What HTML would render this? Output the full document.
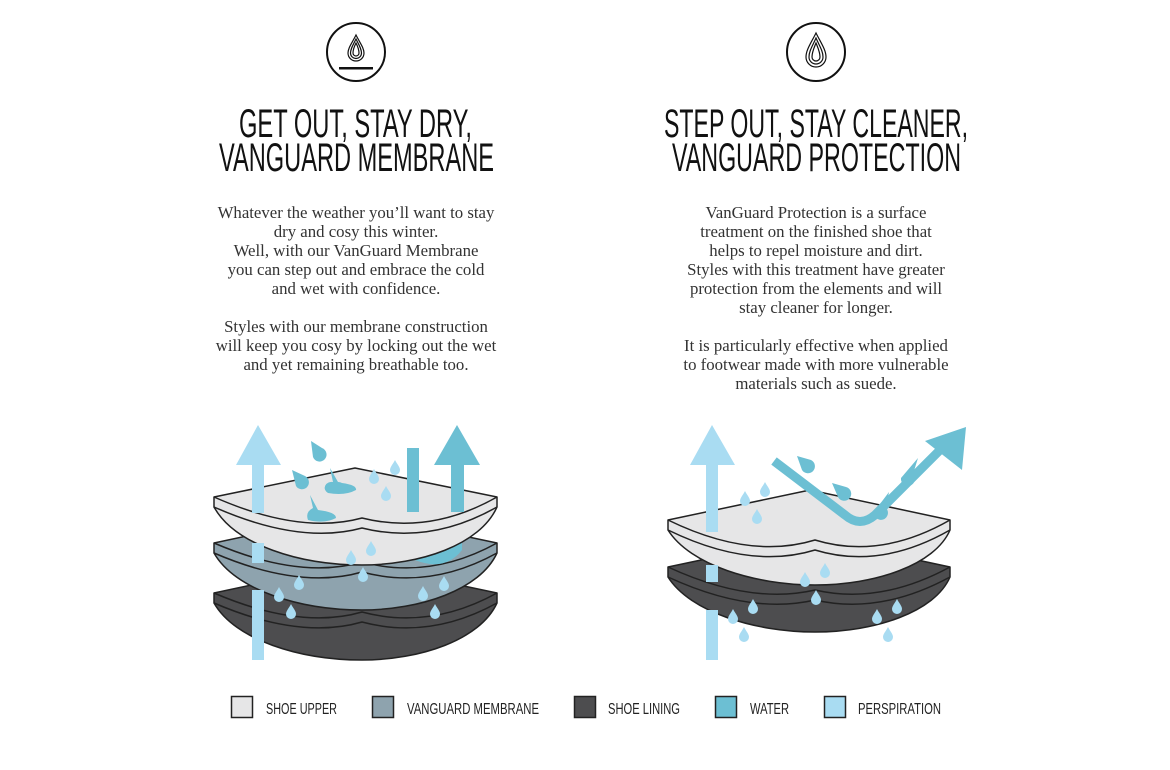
<!DOCTYPE html>
<html><head><meta charset="utf-8"><style>
html,body{margin:0;padding:0;background:#fff;}
svg{display:block;}
.h{font-family:"Liberation Sans",sans-serif;font-size:40px;fill:#111;}
.b{font-family:"Liberation Serif",serif;font-size:16.8px;fill:#333;}
.l{font-family:"Liberation Sans",sans-serif;font-size:16px;fill:#222;}
</style></head><body>
<svg width="1170" height="770" viewBox="0 0 1170 770" xmlns="http://www.w3.org/2000/svg">
<defs>
<path id="drop" d="M0,-8 C2,-4 5,-1 5,2 A5,5 0 0 1 -5,2 C-5,-1 -2,-4 0,-8Z"/>
</defs>
<circle cx="356" cy="52" r="29" fill="none" stroke="#111" stroke-width="2"/>
<g fill="none" stroke="#111" stroke-width="1.2">
<path d="M356,35 C360,43 364,48 364,53 A8,8 0 0 1 348,53 C348,48 352,43 356,35Z"/>
<path d="M356,39 C359,45 361.5,49 361.5,53 A5.5,5.5 0 0 1 350.5,53 C350.5,49 353,45 356,39Z"/>
<path d="M356,43 C358,47 359,50 359,53 A3,3 0 0 1 353,53 C353,50 354,47 356,43Z"/>
</g>
<rect x="339" y="67" width="34" height="2.5" fill="#111"/>
<circle cx="816" cy="52" r="29" fill="none" stroke="#111" stroke-width="2"/>
<g fill="none" stroke="#111" stroke-width="1.2">
<path d="M816,33 C821,43 826,50 826,57 A10,10 0 0 1 806,57 C806,50 811,43 816,33Z"/>
<path d="M816,38 C819.5,46 823,51 823,57 A7,7 0 0 1 809,57 C809,51 812.5,46 816,38Z"/>
<path d="M816,43 C818,48 820,52 820,57 A4,4 0 0 1 812,57 C812,52 814,48 816,43Z"/>
</g>
<text class="h" x="239" y="137" textLength="233" lengthAdjust="spacingAndGlyphs">GET OUT, STAY DRY,</text>
<text class="h" x="219" y="171" textLength="275" lengthAdjust="spacingAndGlyphs">VANGUARD MEMBRANE</text>
<text class="h" x="664" y="137" textLength="304" lengthAdjust="spacingAndGlyphs">STEP OUT, STAY CLEANER,</text>
<text class="h" x="672" y="171" textLength="289" lengthAdjust="spacingAndGlyphs">VANGUARD PROTECTION</text>
<g class="b" text-anchor="middle">
<text x="356" y="218">Whatever the weather you’ll want to stay</text>
<text x="356" y="237">dry and cosy this winter.</text>
<text x="356" y="256">Well, with our VanGuard Membrane</text>
<text x="356" y="275">you can step out and embrace the cold</text>
<text x="356" y="294">and wet with confidence.</text>
<text x="356" y="332">Styles with our membrane construction</text>
<text x="356" y="351">will keep you cosy by locking out the wet</text>
<text x="356" y="370">and yet remaining breathable too.</text>
<text x="816" y="218">VanGuard Protection is a surface</text>
<text x="816" y="237">treatment on the finished shoe that</text>
<text x="816" y="256">helps to repel moisture and dirt.</text>
<text x="816" y="275">Styles with this treatment have greater</text>
<text x="816" y="294">protection from the elements and will</text>
<text x="816" y="313">stay cleaner for longer.</text>
<text x="816" y="351">It is particularly effective when applied</text>
<text x="816" y="370">to footwear made with more vulnerable</text>
<text x="816" y="389">materials such as suede.</text>
</g>

<g stroke="#222" stroke-width="1.5" stroke-linejoin="round">
<path d="M214,593 L355,563 L497,593 L497,603 C480,640 420,660 362,660 C300,660 235,640 214,603Z" fill="#4d4d4f"/>
<path d="M214,593 Q300,630 362,612 Q430,630 497,593" fill="none"/>
<path d="M214,603 Q300,640 362,622 Q430,640 497,603" fill="none"/>
<path d="M214,543 L355,513 L497,543 L497,553 C480,590 420,610 362,610 C300,610 235,590 214,553Z" fill="#8ea3ae"/>
<path d="M214,543 Q300,580 362,562 Q430,580 497,543" fill="none"/>
<path d="M214,553 Q300,590 362,572 Q430,590 497,553" fill="none"/>
</g>
<path d="M415,560 Q445,572 462,550 L462,538 L447,538 Q442,556 415,555Z" fill="#6cbfd3"/>
<g stroke="#222" stroke-width="1.5" stroke-linejoin="round">
<path d="M214,497 L355,468 L497,497 L497,507 C480,545 420,565 362,565 C300,565 235,545 214,507Z" fill="#e6e6e7"/>
<path d="M214,497 Q300,535 362,518 Q430,535 497,497" fill="none"/>
<path d="M214,507 Q300,545 362,528 Q430,545 497,507" fill="none"/>
</g>
<g fill="#a9dcf2">
<path d="M258,425 L281,465 L264,465 L264,513 L252,513 L252,465 L236,465Z"/>
<rect x="252" y="543" width="12" height="20"/>
<rect x="252" y="590" width="12" height="70"/>
</g>
<g fill="#6cbfd3">
<rect x="407" y="448" width="12" height="64"/>
<path d="M457,425 L480,465 L464,465 L464,512 L451,512 L451,465 L434,465Z"/>
</g>
<g fill="#6cbfd3">
<path d="M311,441 L322,448 A7,7 0 1 1 313,457Z"/>
<path d="M292,470 L305,476 A7,7 0 1 1 296,486Z"/>
<path d="M330,468 L338,482 A7,6 0 0 1 342,483 Q357,485 356,490 Q345,496 328,493 A7,6 0 0 1 333,482Z"/>
<path d="M310,495 L318,510 Q336,512 336,518 Q325,524 308,520 Q305,512 313,508Z"/>
</g>
<g fill="#a9dcf2">
<use href="#drop" x="395" y="468"/>
<use href="#drop" x="374" y="477"/>
<use href="#drop" x="386" y="494"/>
<use href="#drop" x="371" y="549"/>
<use href="#drop" x="351" y="558"/>
<use href="#drop" x="363" y="575"/>
<use href="#drop" x="299" y="583"/>
<use href="#drop" x="279" y="595"/>
<use href="#drop" x="291" y="612"/>
<use href="#drop" x="444" y="584"/>
<use href="#drop" x="423" y="594"/>
<use href="#drop" x="435" y="612"/>
</g>

<g stroke="#222" stroke-width="1.5" stroke-linejoin="round">
<path d="M668,567 L810,537 L950,567 L950,577 C935,612 875,632 815,632 C755,632 690,612 668,577Z" fill="#4d4d4f"/>
<path d="M668,567 Q750,605 815,590 Q880,605 950,567" fill="none"/>
<path d="M668,577 Q750,615 815,600 Q880,615 950,577" fill="none"/>
<path d="M668,520 L810,490 L950,520 L950,530 C935,565 875,585 815,585 C755,585 690,565 668,530Z" fill="#e6e6e7"/>
<path d="M668,520 Q750,560 815,540 Q880,560 950,520" fill="none"/>
<path d="M668,530 Q750,570 815,550 Q880,570 950,530" fill="none"/>
</g>
<g fill="#a9dcf2">
<path d="M712,425 L735,465 L718,465 L718,532 L706,532 L706,465 L690,465Z"/>
<rect x="706" y="565" width="12" height="17"/>
<rect x="706" y="610" width="12" height="50"/>
</g>
<path d="M774,461 L845,515 Q860,528 875,515 L945,445" fill="none" stroke="#6cbfd3" stroke-width="9"/>
<path d="M966,427 L962,470 L925,441Z" fill="#6cbfd3"/>
<g fill="#6cbfd3">
<path d="M797,456 L811,460 A7,7 0 1 1 802,470Z"/>
<path d="M832,483 L846,487 A7,7 0 1 1 838,497Z"/>
<path d="M918,458 L901,478 A7,7 0 1 0 913,474Z"/>
<path d="M889,492 L874,512 A7,7 0 1 0 886,508Z"/>
</g>
<g fill="#a9dcf2">
<use href="#drop" x="765" y="490"/>
<use href="#drop" x="745" y="499"/>
<use href="#drop" x="757" y="517"/>
<use href="#drop" x="825" y="571"/>
<use href="#drop" x="805" y="580"/>
<use href="#drop" x="816" y="598"/>
<use href="#drop" x="753" y="607"/>
<use href="#drop" x="733" y="617"/>
<use href="#drop" x="744" y="635"/>
<use href="#drop" x="897" y="607"/>
<use href="#drop" x="877" y="617"/>
<use href="#drop" x="888" y="635"/>
</g>

<g stroke="#222" stroke-width="1.5">
<rect x="231.5" y="696.5" width="21" height="21" fill="#e6e6e7"/>
<rect x="372.5" y="696.5" width="21" height="21" fill="#8ea3ae"/>
<rect x="574.5" y="696.5" width="21" height="21" fill="#4d4d4f"/>
<rect x="715.5" y="696.5" width="21" height="21" fill="#6cbfd3"/>
<rect x="824.5" y="696.5" width="21" height="21" fill="#a9dcf2"/>
</g>
<g class="l">
<text x="266" y="714" textLength="71" lengthAdjust="spacingAndGlyphs">SHOE UPPER</text>
<text x="407" y="714" textLength="132" lengthAdjust="spacingAndGlyphs">VANGUARD MEMBRANE</text>
<text x="608" y="714" textLength="72" lengthAdjust="spacingAndGlyphs">SHOE LINING</text>
<text x="750" y="714" textLength="39" lengthAdjust="spacingAndGlyphs">WATER</text>
<text x="858" y="714" textLength="83" lengthAdjust="spacingAndGlyphs">PERSPIRATION</text>
</g>
</svg>
</body></html>
